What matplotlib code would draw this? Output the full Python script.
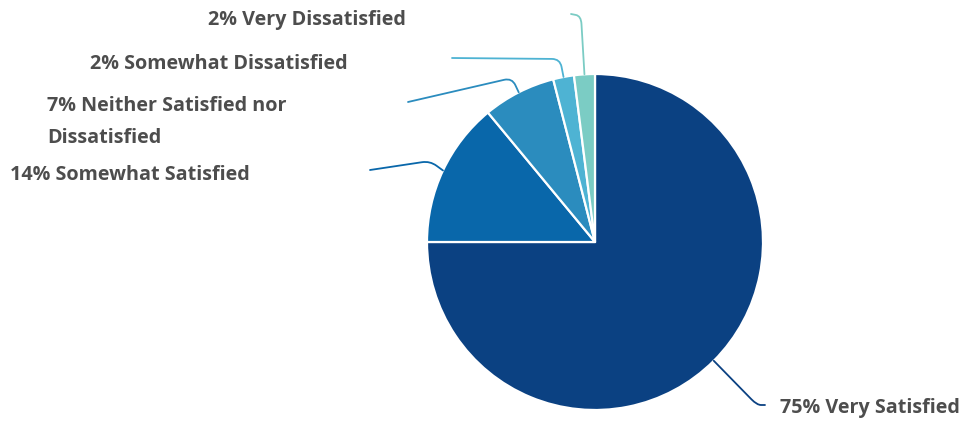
import numpy as np
import matplotlib.pyplot as plt
from matplotlib.path import Path
from matplotlib.patches import PathPatch

# データ
categories = ['Very Satisfied', 'Somewhat Satisfied', 'Neither Satisfied nor\nDissatisfied',
              'Somewhat Dissatisfied', 'Very Dissatisfied']
percents = [75, 14, 7, 2, 2]
colors = ['#0b4182', '#0967aa', '#2b8cbe', '#4eb3d3', '#7bccc4']

# レイアウト（ピクセル座標, y は上から）
W, H = 966, 422
center_px = (595, 242)
radius = 168
knees = [(757, 405), (430, 161), (512, 78), (560, 59), (581, 16)]
ends = [(765, 405), (370, 170), (408, 102), (452, 58), (571, 14)]
label_pos = [(780, 408), (10, 175), (47, 122), (90, 64), (208, 20)]

plt.rcParams['font.family'] = ['Open Sans', 'DejaVu Sans']


def py(y):
    return H - y


fig = plt.figure(figsize=(W / 100, H / 100), dpi=100)
ax = fig.add_axes([0, 0, 1, 1])
wedges, _ = ax.pie(percents, colors=colors, startangle=90, counterclock=False,
                   center=(center_px[0], py(center_px[1])), radius=radius,
                   wedgeprops=dict(edgecolor='white', linewidth=1.6))
ax.set_xlim(0, W)
ax.set_ylim(0, H)
ax.axis('off')

for w, c, name, pct, knee, end, lp in zip(wedges, colors, categories, percents,
                                          knees, ends, label_pos):
    mid = np.deg2rad((w.theta1 + w.theta2) / 2)
    start = np.array([center_px[0] + radius * np.cos(mid), py(center_px[1]) + radius * np.sin(mid)])
    k = np.array([knee[0], py(knee[1])])
    e = np.array([end[0], py(end[1])])
    r = 8.0
    d1 = k - start
    d2 = e - k
    a = k - d1 / np.linalg.norm(d1) * min(r, np.linalg.norm(d1) * 0.5)
    b = k + d2 / np.linalg.norm(d2) * min(r, np.linalg.norm(d2) * 0.5)
    path = Path([start, a, k, b, e],
                [Path.MOVETO, Path.LINETO, Path.CURVE3, Path.CURVE3, Path.LINETO])
    ax.add_patch(PathPatch(path, fill=False, edgecolor=c, linewidth=1.3, capstyle='round'))
    ax.text(lp[0], py(lp[1]), f'{pct}% {name}', ha='left', va='center',
            fontsize=14.2, fontweight='bold', color='#4d4d4d', linespacing=1.8)

fig.savefig('out.png', dpi=100)
